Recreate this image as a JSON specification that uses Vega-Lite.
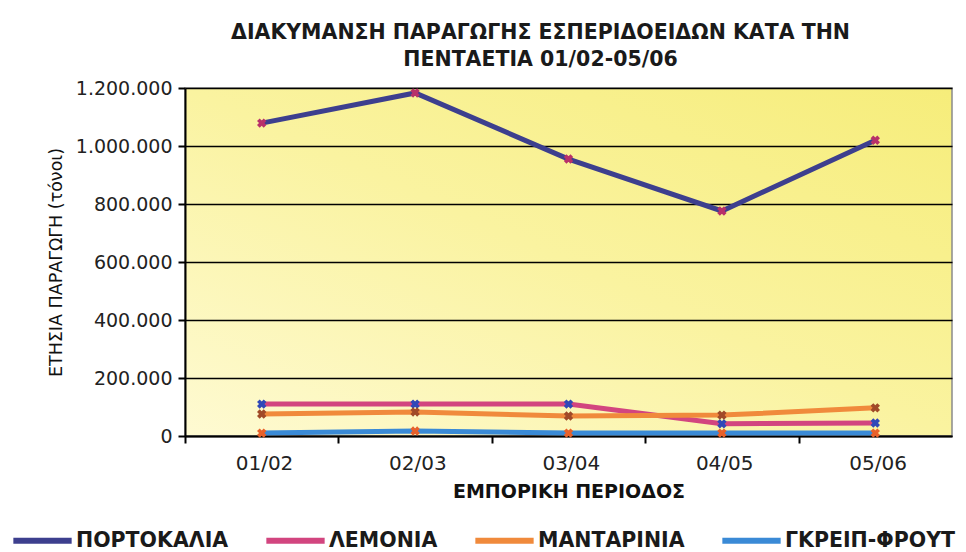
{
  "$schema": "https://vega.github.io/schema/vega-lite/v6.json",
  "width": 767,
  "height": 348,
  "autosize": "none",
  "padding": {"left": 185, "top": 88, "right": 14, "bottom": 116},
  "background": "#ffffff",
  "title": {
    "text": ["ΔΙΑΚΥΜΑΝΣΗ ΠΑΡΑΓΩΓΗΣ ΕΣΠΕΡΙΔΟΕΙΔΩΝ ΚΑΤΑ ΤΗΝ", "ΠΕΝΤΑΕΤΙΑ 01/02-05/06"],
    "anchor": "middle",
    "frame": "group",
    "dx": -28,
    "offset": 9,
    "font": "DejaVu Sans",
    "fontSize": 20.5,
    "fontWeight": "bold",
    "lineHeight": 27,
    "color": "#1a1a1a"
  },
  "data": {
    "values": [
      {"period": "01/02", "series": "ΠΟΡΤΟΚΑΛΙΑ", "value": 1079000},
      {"period": "02/03", "series": "ΠΟΡΤΟΚΑΛΙΑ", "value": 1183000},
      {"period": "03/04", "series": "ΠΟΡΤΟΚΑΛΙΑ", "value": 955000},
      {"period": "04/05", "series": "ΠΟΡΤΟΚΑΛΙΑ", "value": 776000},
      {"period": "05/06", "series": "ΠΟΡΤΟΚΑΛΙΑ", "value": 1020000},
      {"period": "01/02", "series": "ΛΕΜΟΝΙΑ", "value": 110000},
      {"period": "02/03", "series": "ΛΕΜΟΝΙΑ", "value": 110000},
      {"period": "03/04", "series": "ΛΕΜΟΝΙΑ", "value": 110000},
      {"period": "04/05", "series": "ΛΕΜΟΝΙΑ", "value": 42000},
      {"period": "05/06", "series": "ΛΕΜΟΝΙΑ", "value": 45000},
      {"period": "01/02", "series": "ΜΑΝΤΑΡΙΝΙΑ", "value": 76000},
      {"period": "02/03", "series": "ΜΑΝΤΑΡΙΝΙΑ", "value": 83000},
      {"period": "03/04", "series": "ΜΑΝΤΑΡΙΝΙΑ", "value": 69000},
      {"period": "04/05", "series": "ΜΑΝΤΑΡΙΝΙΑ", "value": 72000},
      {"period": "05/06", "series": "ΜΑΝΤΑΡΙΝΙΑ", "value": 97000},
      {"period": "01/02", "series": "ΓΚΡΕΙΠ-ΦΡΟΥΤ", "value": 10000},
      {"period": "02/03", "series": "ΓΚΡΕΙΠ-ΦΡΟΥΤ", "value": 17000},
      {"period": "03/04", "series": "ΓΚΡΕΙΠ-ΦΡΟΥΤ", "value": 10000},
      {"period": "04/05", "series": "ΓΚΡΕΙΠ-ΦΡΟΥΤ", "value": 10000},
      {"period": "05/06", "series": "ΓΚΡΕΙΠ-ΦΡΟΥΤ", "value": 10000}
    ]
  },
  "encoding": {
    "x": {
      "field": "period",
      "type": "ordinal",
      "scale": {"type": "point", "padding": 0.5},
      "axis": {
        "title": "ΕΜΠΟΡΙΚΗ ΠΕΡΙΟΔΟΣ",
        "labelAngle": 0,
        "tickOffset": -76.7,
        "labelOffset": 79,
        "tickSize": 7,
        "tickColor": "#000",
        "tickWidth": 2,
        "domainColor": "#000",
        "domainWidth": 2,
        "labelPadding": 10,
        "labelFontSize": 20,
        "labelFont": "DejaVu Sans",
        "labelColor": "#222",
        "titleFont": "DejaVu Sans",
        "titleFontSize": 19,
        "titleFontWeight": "bold",
        "titleColor": "#111",
        "titlePadding": 9
      }
    },
    "y": {
      "field": "value",
      "type": "quantitative",
      "scale": {"domain": [0, 1200000], "nice": false},
      "axis": {
        "title": "ΕΤΗΣΙΑ ΠΑΡΑΓΩΓΗ (τόνοι)",
        "format": ",d",
        "values": [0, 200000, 400000, 600000, 800000, 1000000, 1200000],
        "tickSize": 7,
        "tickColor": "#000",
        "tickWidth": 2,
        "domainColor": "#000",
        "domainWidth": 2,
        "grid": true,
        "gridColor": "#000",
        "gridWidth": 1.5,
        "labelPadding": 6,
        "labelFontSize": 19,
        "labelFont": "DejaVu Sans",
        "labelColor": "#222",
        "titleFont": "DejaVu Sans",
        "titleFontSize": 17.5,
        "titleFontWeight": "normal",
        "titleColor": "#111",
        "titlePadding": 10
      }
    }
  },
  "layer": [
    {
      "mark": {"type": "line", "strokeWidth": 5},
      "encoding": {
        "color": {
          "field": "series",
          "type": "nominal",
          "scale": {
            "domain": ["ΠΟΡΤΟΚΑΛΙΑ", "ΛΕΜΟΝΙΑ", "ΜΑΝΤΑΡΙΝΙΑ", "ΓΚΡΕΙΠ-ΦΡΟΥΤ"],
            "range": ["#3d3f8e", "#d2457f", "#f08a3c", "#3a8ad6"]
          },
          "legend": {
            "title": null,
            "orient": "none",
            "legendX": -175,
            "legendY": 420,
            "direction": "horizontal",
            "symbolType": "stroke",
            "symbolSize": 3400,
            "symbolStrokeWidth": 6,
            "labelFont": "DejaVu Sans",
            "labelFontSize": 20.5,
            "labelFontWeight": "bold",
            "labelColor": "#1a1a1a",
            "labelOffset": 1,
            "columnPadding": 25,
            "labelLimit": 400
          }
        }
      }
    },
    {
      "mark": {"type": "point", "shape": "cross", "angle": 45, "filled": true, "size": 90, "opacity": 1},
      "encoding": {
        "fill": {
          "field": "series",
          "type": "nominal",
          "scale": {
            "domain": ["ΠΟΡΤΟΚΑΛΙΑ", "ΛΕΜΟΝΙΑ", "ΜΑΝΤΑΡΙΝΙΑ", "ΓΚΡΕΙΠ-ΦΡΟΥΤ"],
            "range": ["#b8306a", "#3048b8", "#a04a28", "#e8602a"]
          },
          "legend": null
        }
      }
    }
  ],
  "config": {
    "locale": {
      "number": {"decimal": ",", "thousands": ".", "grouping": [3], "currency": ["", " €"]}
    },
    "view": {
      "stroke": "#8a8a8a",
      "strokeWidth": 1.5,
      "fill": {
        "gradient": "linear",
        "x1": 1, "y1": 0, "x2": 0, "y2": 1,
        "stops": [
          {"offset": 0, "color": "#f6ed7a"},
          {"offset": 0.5, "color": "#faf3a0"},
          {"offset": 1, "color": "#fefad2"}
        ]
      }
    }
  }
}
